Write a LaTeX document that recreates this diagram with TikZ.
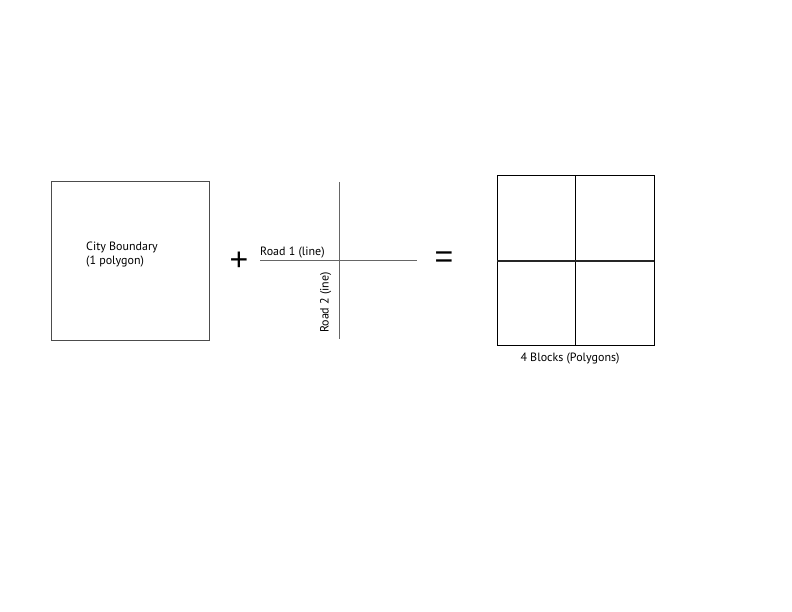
\documentclass[tikz,border=0pt]{standalone}
\usepackage{fontspec}
\setmainfont{PT Sans}
\newfontfamily\symfont{Liberation Sans}
\begin{document}
\begin{tikzpicture}[x=1pt,y=-1pt,
  lbl/.style={inner sep=0pt,font=\fontsize{12}{14.5}\selectfont},
  sym/.style={inner sep=0pt,font=\symfont\fontsize{32}{32}\selectfont},
  cityline/.style={draw=black!70,line width=1pt},
  road/.style={draw=black!60,line width=1pt}]
\useasboundingbox (0,0) rectangle (792,612);
% city boundary
\draw[cityline] (51,182) coordinate (cb1) rectangle (209,340) coordinate (cb2);
\node[lbl,anchor=base west,align=left] (cbt) at (86,265) {City Boundary\\(1 polygon)};
% plus
\node[sym] (plus) at (239,261) {+};
% roads
\coordinate (r1a) at (260,261);
\coordinate (r1b) at (417,261);
\coordinate (r2a) at (339,182);
\coordinate (r2b) at (339,339);
\draw[road] (r1a) -- (r1b);
\draw[road] (r2a) -- (r2b);
\node[lbl,anchor=base west] (r1t) at (260,255) {Road 1 (line)};
\node[lbl,rotate=90,anchor=base] (r2t) at (328.5,302.5) {Road 2 (ine)};
% equals
\node[sym] (eq) at (444,259.5) {=};
% blocks
\draw[draw=black,line width=1pt] (497,176) coordinate (b1) rectangle (654,345) coordinate (b2);
\coordinate (bv1) at (575,176);
\coordinate (bv2) at (575,345);
\coordinate (bh1) at (497,261);
\coordinate (bh2) at (654,261);
\draw[black,line width=1pt] (bv1) -- (bv2);
\draw[black!85,line width=1.6pt] (bh1) -- (bh2);
\node[lbl] (bt) at (570,359) {4 Blocks (Polygons)};
\end{tikzpicture}
\end{document}
